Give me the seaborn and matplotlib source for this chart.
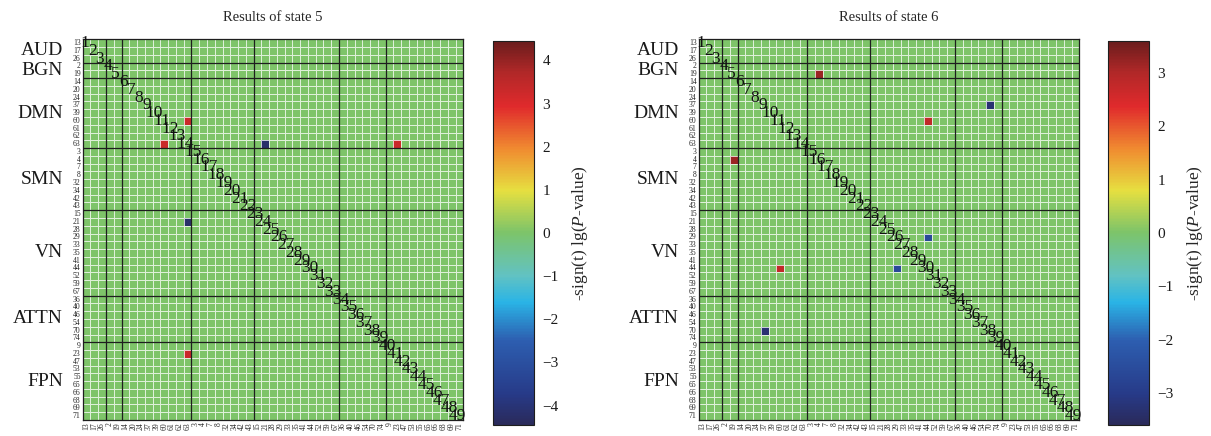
import numpy as np
import pandas as pd
import matplotlib
matplotlib.use('Agg')
import matplotlib.pyplot as plt
import matplotlib.transforms as mtransforms
import seaborn as sns
from matplotlib.colors import LinearSegmentedColormap

# ---------------- data ----------------
network_names = ['AUD', 'BGN', 'DMN', 'SMN', 'VN', 'ATTN', 'FPN']
aud_ics = [13, 17, 26]
bgn_ics = [2, 19]
dmn_ics = [14, 20, 24, 37, 39, 60, 61, 62, 63]
smn_ics = [3, 4, 7, 8, 32, 34, 42, 43]
vn_ics = [15, 21, 28, 29, 33, 35, 41, 44, 52, 59, 67]
attn_ics = [36, 40, 46, 54, 70, 74]
fpn_ics = [9, 23, 47, 53, 55, 65, 66, 68, 69, 71]

# significant pairs: (component a, component b, -sign(t) lg(P))
state5_a = [60, 63, 63]
state5_b = [63, 21, 23]
state5_v = [3.3, -4.2, 3.3]

state6_a = [4, 37, 60, 29]
state6_b = [19, 70, 44, 44]
state6_v = [3.2, -3.3, 2.8, -2.6]

state5_ticks = [-4, -3, -2, -1, 0, 1, 2, 3, 4]
state6_ticks = [-3, -2, -1, 0, 1, 2, 3]
state5_lim = 4.45
state6_lim = 3.6

# ---------------- style ----------------
sns.set_theme(style='white')
plt.rcParams['font.family'] = ['Liberation Serif', 'DejaVu Serif']
plt.rcParams['mathtext.fontset'] = 'custom'
plt.rcParams['mathtext.rm'] = 'Liberation Serif'
plt.rcParams['mathtext.it'] = 'Liberation Serif:italic'

groups = [aud_ics, bgn_ics, dmn_ics, smn_ics, vn_ics, attn_ics, fpn_ics]
labels = [c for g in groups for c in g]
n = len(labels)
sizes = [len(g) for g in groups]
bounds = np.cumsum(sizes)

cmap = LinearSegmentedColormap.from_list('mjet', [
    (0.00, '#2a2a5a'),
    (0.08, '#273a88'),
    (0.22, '#2d5eb0'),
    (0.32, '#2ab4e6'),
    (0.39, '#62c2c2'),
    (0.50, '#7cc46a'),
    (0.61, '#e6df40'),
    (0.72, '#f08a30'),
    (0.83, '#e02a2c'),
    (0.92, '#b02828'),
    (1.00, '#6a1c1c'),
])


def build(a_list, b_list, v_list):
    idx = {c: i for i, c in enumerate(labels)}
    m = np.zeros((n, n))
    for a, b, v in zip(a_list, b_list, v_list):
        m[idx[a], idx[b]] = v
        m[idx[b], idx[a]] = v
    return pd.DataFrame(m, index=labels, columns=labels)


W, H = 1211, 436
fig = plt.figure(figsize=(W / 100, H / 100), dpi=100)


def px(x0, y0, x1, y1):
    return [x0 / W, 1 - y1 / H, (x1 - x0) / W, (y1 - y0) / H]


panels = [
    ('Results of state 5', build(state5_a, state5_b, state5_v), state5_lim, state5_ticks,
     px(82.7, 39.3, 463.3, 420.0), px(492.7, 41, 534, 425)),
    ('Results of state 6', build(state6_a, state6_b, state6_v), state6_lim, state6_ticks,
     px(698.7, 39.3, 1079.3, 420.0), px(1108, 41, 1149, 425)),
]

for title, df, lim, ticks, axpos, cpos in panels:
    ax = fig.add_axes(axpos)
    cax = fig.add_axes(cpos)
    sns.heatmap(df, ax=ax, cmap=cmap, vmin=-lim, vmax=lim, cbar_ax=cax,
                linewidths=0.6, linecolor=(1, 1, 1, 0.75),
                xticklabels=labels, yticklabels=labels)
    for b in bounds[:-1]:
        ax.axhline(b, color='#1e1e1e', lw=0.9)
        ax.axvline(b, color='#1e1e1e', lw=0.9)
    for s in ax.spines.values():
        s.set_visible(True)
        s.set_color('#1e1e1e')
        s.set_linewidth(0.9)
    ax.set_xlabel('')
    ax.set_ylabel('')
    ax.set_xticks(np.arange(n) + 0.5)
    ax.set_yticks(np.arange(n) + 0.5)
    ax.set_xticklabels(labels, rotation=90, fontsize=5.5)
    ax.set_yticklabels(labels, rotation=0, fontsize=5.5)
    ax.tick_params(length=0, pad=1.5)
    ax.set_title(title, fontsize=10.5, pad=13)

    # network names
    trans = mtransforms.blended_transform_factory(ax.transAxes, ax.transData)
    start = 0
    for name, sz in zip(network_names, sizes):
        ax.text(-0.052, start + sz / 2, name, transform=trans, ha='right',
                va='center', fontsize=14, color='#1a1a1a')
        start += sz

    # diagonal component numbers
    for i in range(n):
        ax.text(i + 0.22, i + 0.5, str(i + 1), ha='center', va='center',
                fontsize=12.5, color='#111111', clip_on=False)

    cbar = ax.collections[0].colorbar
    cbar.set_ticks(ticks)
    cbar.outline.set_edgecolor('#1e1e1e')
    cbar.outline.set_linewidth(0.8)
    cax.tick_params(direction='in', length=3, left=True, right=True,
                    labelsize=11, colors='#1a1a1a', pad=6)
    cbar.set_label(r'-sign(t) lg($\mathit{P}$-value)', fontsize=12.5, labelpad=8)

fig.savefig('out.png', dpi=100)
